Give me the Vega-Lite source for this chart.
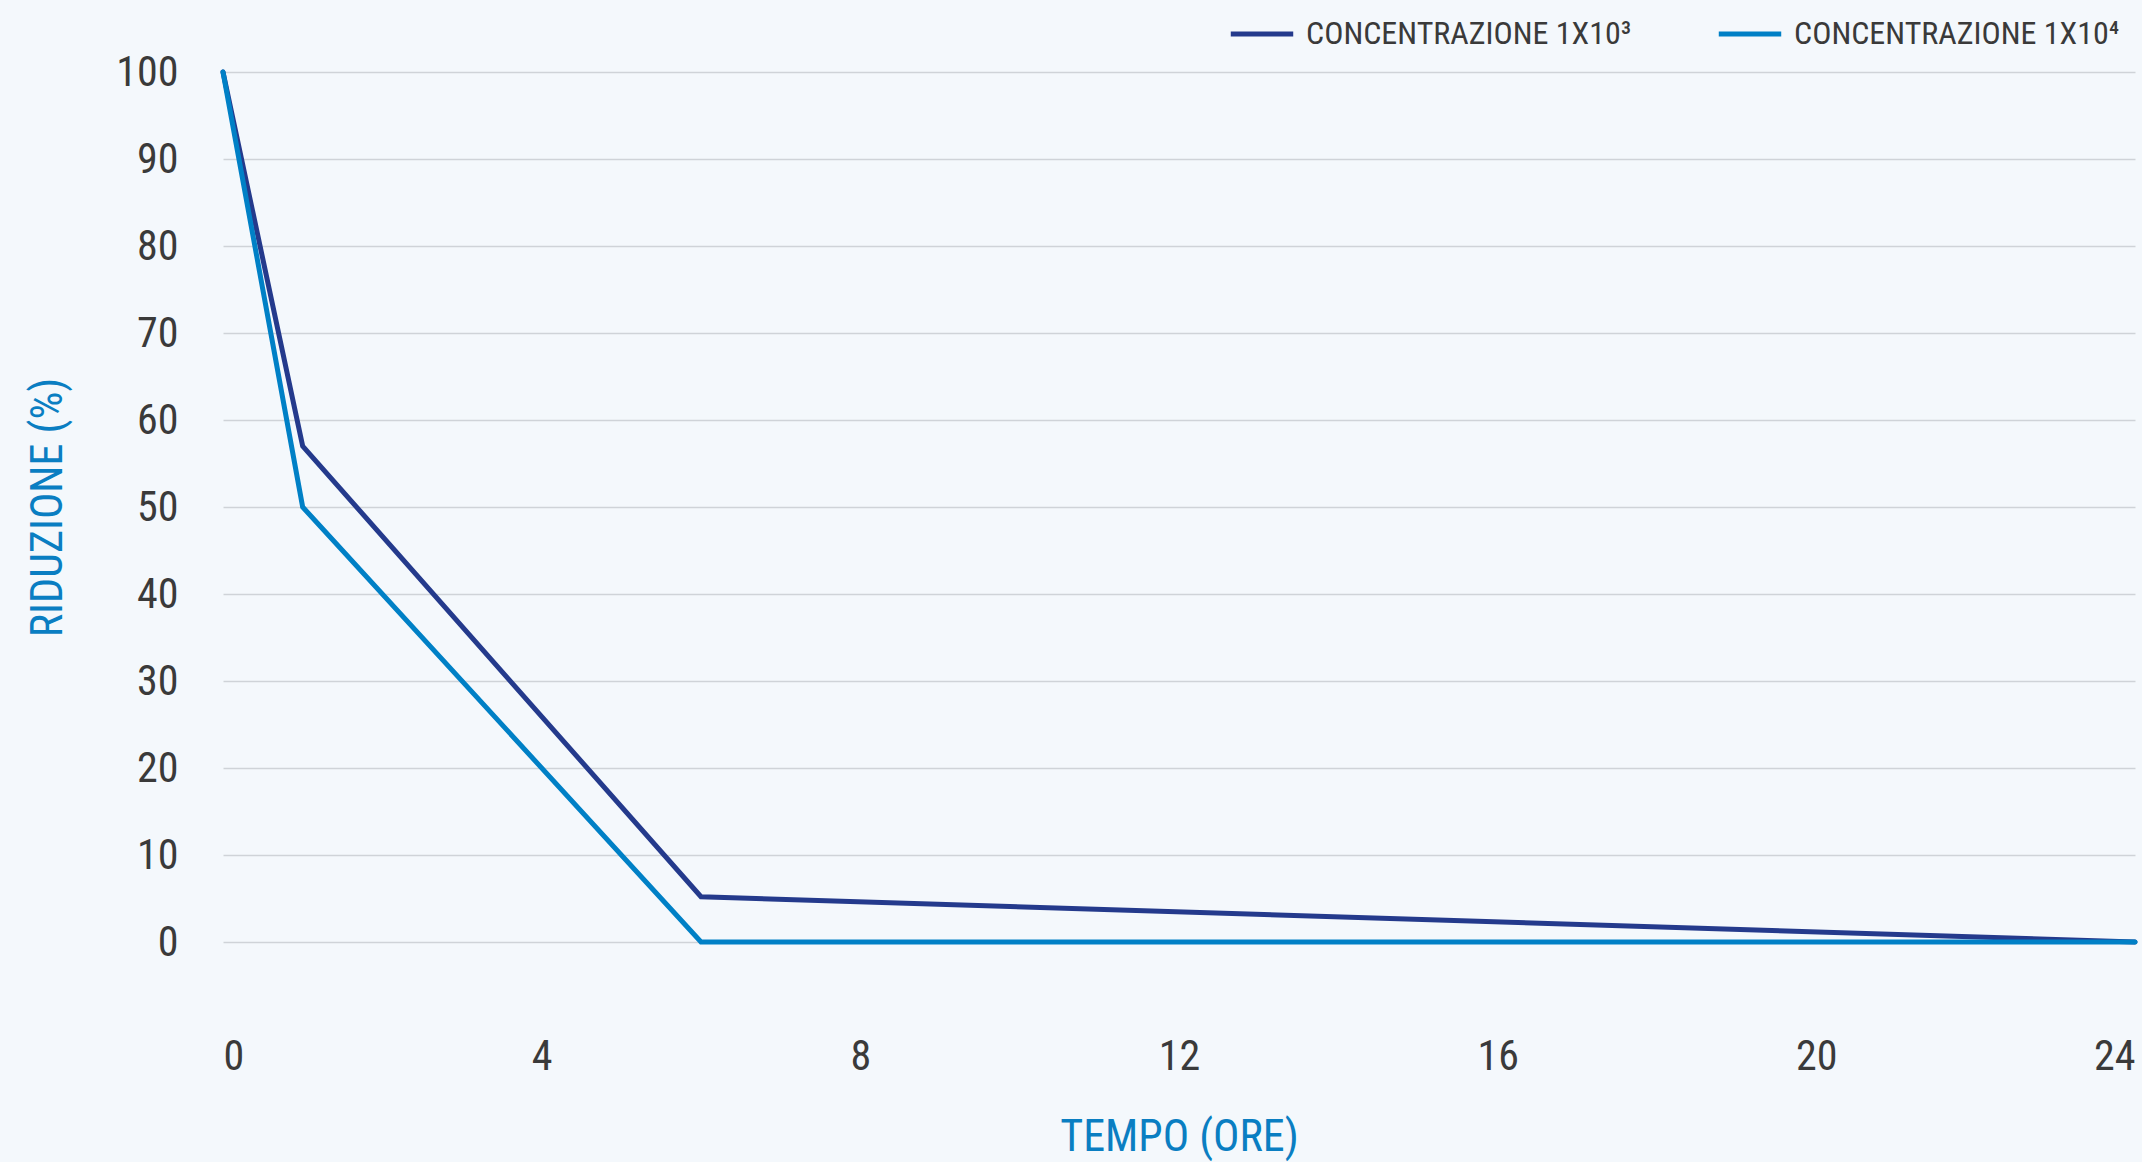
{
  "$schema": "https://vega.github.io/schema/vega-lite/v6.json",
  "width": 1912,
  "height": 870,
  "autosize": {"type": "none"},
  "padding": {"left": 223, "top": 72, "right": 7, "bottom": 220},
  "background": "#f4f8fc",
  "config": {
    "view": {"stroke": null},
    "font": "Roboto Condensed, Liberation Sans Narrow, DejaVu Sans Condensed, Roboto"
  },
  "data": {
    "values": [
      {"ore": 0, "riduzione": 100, "serie": "CONCENTRAZIONE 1X10³"},
      {"ore": 1, "riduzione": 57, "serie": "CONCENTRAZIONE 1X10³"},
      {"ore": 6, "riduzione": 5.2, "serie": "CONCENTRAZIONE 1X10³"},
      {"ore": 24, "riduzione": 0, "serie": "CONCENTRAZIONE 1X10³"},
      {"ore": 0, "riduzione": 100, "serie": "CONCENTRAZIONE 1X10⁴"},
      {"ore": 1, "riduzione": 50, "serie": "CONCENTRAZIONE 1X10⁴"},
      {"ore": 6, "riduzione": 0, "serie": "CONCENTRAZIONE 1X10⁴"},
      {"ore": 24, "riduzione": 0, "serie": "CONCENTRAZIONE 1X10⁴"}
    ]
  },
  "mark": {"type": "line", "strokeWidth": 5, "strokeCap": "round", "strokeJoin": "miter"},
  "encoding": {
    "x": {
      "field": "ore",
      "type": "quantitative",
      "scale": {"domain": [0, 24], "nice": false, "zero": false},
      "axis": {
        "title": "TEMPO (ORE)",
        "values": [0, 4, 8, 12, 16, 20, 24],
        "grid": false,
        "domain": false,
        "ticks": false,
        "labelFlush": true,
        "labelPadding": 94,
        "labelFontSize": 42,
        "labelColor": "#3a3a3a",
        "titleFontSize": 44,
        "titleFontWeight": "normal",
        "titleColor": "#0a7ec2",
        "titlePadding": 38
      }
    },
    "y": {
      "field": "riduzione",
      "type": "quantitative",
      "scale": {"domain": [0, 100], "nice": false},
      "axis": {
        "title": "RIDUZIONE (%)",
        "values": [0, 10, 20, 30, 40, 50, 60, 70, 80, 90, 100],
        "grid": true,
        "gridColor": "#cfd3d8",
        "gridWidth": 1.5,
        "domain": false,
        "ticks": false,
        "labelPadding": 45,
        "labelFontSize": 42,
        "labelColor": "#3a3a3a",
        "titleFontSize": 44,
        "titleFontWeight": "normal",
        "titleColor": "#0a7ec2",
        "titlePadding": 45
      }
    },
    "color": {
      "field": "serie",
      "type": "nominal",
      "scale": {
        "domain": ["CONCENTRAZIONE 1X10³", "CONCENTRAZIONE 1X10⁴"],
        "range": ["#243a8c", "#0080c6"]
      },
      "legend": {
        "title": null,
        "orient": "none",
        "legendX": 1005,
        "legendY": -72,
        "direction": "horizontal",
        "symbolType": "stroke",
        "symbolStrokeWidth": 5,
        "symbolSize": 3900,
        "labelFontSize": 32,
        "labelLimit": 0,
        "labelColor": "#3a3a3a",
        "columnPadding": 76,
        "labelOffset": 10
      }
    }
  }
}
